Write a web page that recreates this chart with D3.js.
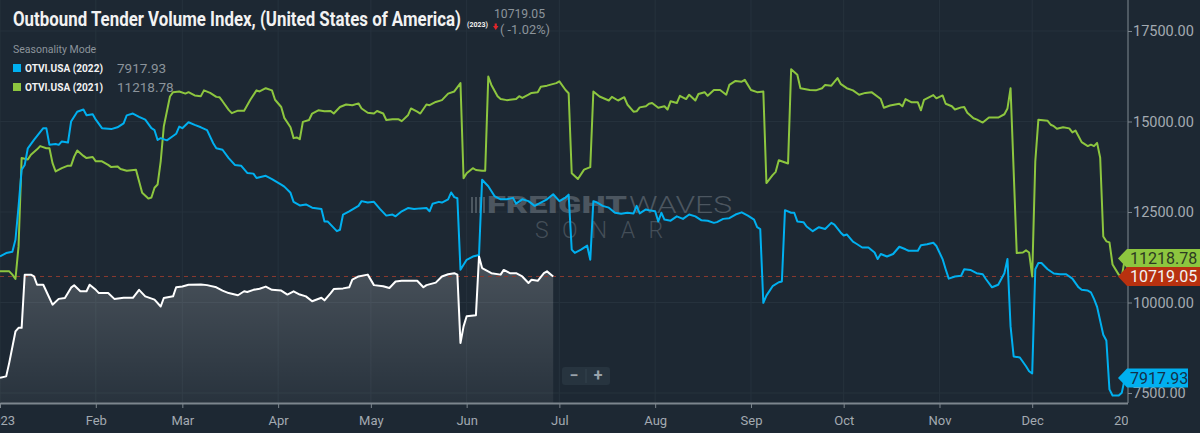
<!DOCTYPE html>
<html>
<head>
<meta charset="utf-8">
<script src="https://cdn.jsdelivr.net/npm/d3@7"></script>
<style>
  body { margin: 0; background: #1d2833; }
  svg { display: block; font-family: Roboto, "Noto Sans", sans-serif; }
</style>
</head>
<body>
<svg id="chart" width="1200" height="433"></svg>
<script>
// days counted from Jan 1 (seasonality mode: every year on the same calendar)
var days2023 = [0,2,3,5,6,7,8,10,11,12,14,16,17,19,21,23,24,26,28,29,31,32,35,37,40,43,45,47,50,52,53,56,57,59,61,65,67,70,72,74,77,79,80,82,84,86,88,91,93,95,97,99,101,104,105,107,108,111,113,114,116,119,121,124,126,128,130,133,135,137,138,141,143,145,147,148,149,150,151,154,155,156,159,162,163,165,167,169,171,172,174,176,177,179];
var values2023 = [7920,7960,8340,9200,9300,9300,10768,10768,10720,10490,10490,10125,9940,10100,10125,10410,10475,10310,10310,10490,10350,10260,10260,10100,10130,10130,10350,10170,10080,9890,10125,10170,10420,10440,10490,10500,10480,10420,10330,10260,10200,10310,10290,10350,10380,10440,10350,10330,10220,10310,10220,10170,10035,10130,10060,10260,10370,10390,10420,10630,10720,10770,10480,10450,10400,10580,10600,10600,10600,10420,10480,10550,10720,10780,10810,10770,8880,9340,9620,9650,11270,10950,10810,10770,10900,10810,10810,10720,10540,10630,10600,10810,10860,10719.05];

var days2022 = [0,2,4,5,6,7,8,9,11,14,15,16,18,19,20,22,23,25,27,28,30,31,33,36,38,40,41,43,45,47,49,50,51,52,54,56,57,58,59,61,63,65,67,69,70,72,74,76,78,80,82,83,86,88,91,92,94,95,97,99,101,104,105,106,108,109,110,111,113,116,117,119,121,123,125,127,128,130,132,134,136,138,139,140,142,143,145,146,147,148,149,151,153,155,156,158,160,162,164,166,167,169,171,173,175,177,179,181,183,184,185,186,188,190,191,192,193,195,197,199,201,203,205,206,207,209,210,212,213,214,215,217,219,221,223,225,227,229,231,232,234,236,238,240,242,244,245,246,247,248,250,252,253,254,256,257,258,260,261,263,265,267,269,270,272,273,274,276,277,279,281,283,284,285,287,289,291,293,294,297,298,300,302,303,305,306,307,309,311,312,314,316,318,319,321,323,325,326,327,328,330,332,333,334,335,336,337,339,341,343,345,347,349,350,352,353,354,355,357,358,359,360,362,363,364];
var values2022 = [11273,11365,11400,11733,12650,13665,13800,14260,14490,14815,14815,14355,14380,14355,14450,14420,14998,15270,15330,15170,15200,15050,14815,14790,14840,14950,15170,15220,15130,15050,14815,14760,14490,14540,14480,14600,14660,14860,14815,14980,14905,14840,14760,14400,14260,14220,13990,13800,13780,13580,13560,13440,13500,13410,13255,13200,13030,12780,12680,12710,12620,12580,12240,12240,12060,11970,12010,12430,12520,12670,12800,12760,12780,12580,12400,12430,12380,12520,12610,12580,12600,12610,12520,12730,12780,12760,12850,13040,12910,12880,10906,11180,11270,11310,13390,13210,12940,12850,12850,12890,12730,12850,12800,12670,12760,12850,12990,12800,12900,12980,11460,11370,11460,11570,11180,12800,12770,12670,12620,12480,12450,12480,12460,12670,12460,12570,12550,12520,12240,12480,12290,12260,12380,12310,12430,12380,12270,12260,12200,12220,12310,12330,12430,12490,12400,12290,12080,12030,9990,10190,10450,10560,10580,12550,12480,12480,12240,12220,12100,11970,12080,12030,12200,12150,11935,11850,11880,11680,11630,11520,11520,11380,11200,11340,11270,11340,11540,11470,11430,11430,11580,11610,11650,11560,11200,10920,10660,10720,10740,10920,10900,10810,10780,10650,10420,10490,10810,11200,9340,8510,8480,8240,8100,8040,10920,11090,11090,10920,10800,10780,10780,10660,10420,10350,10330,10280,10100,9880,9110,8950,7600,7430,7430,7510,7917.93];

var days2021 = [0,3,4,5,6,7,9,10,12,13,15,16,17,18,20,22,23,24,25,27,28,30,31,33,35,36,38,39,41,44,45,46,48,49,50,51,52,53,55,56,58,60,61,63,65,66,68,70,71,72,74,75,77,79,81,83,84,86,88,89,91,92,94,95,96,97,98,100,101,103,105,107,108,110,112,114,116,117,119,121,122,124,125,127,129,130,132,133,135,136,138,139,141,143,145,147,149,150,151,153,154,156,157,158,159,161,162,164,167,168,169,171,172,174,175,177,180,181,183,184,185,187,189,191,192,194,197,198,200,202,203,205,206,207,209,210,211,213,215,216,217,219,220,222,223,225,226,228,229,231,233,235,236,238,240,241,243,245,247,248,250,251,252,255,256,258,259,262,264,266,267,269,271,272,274,276,278,280,282,285,286,288,291,292,293,295,297,298,299,302,303,305,306,308,309,311,312,313,315,316,318,320,323,325,326,327,329,331,332,333,334,335,336,339,340,341,342,344,346,347,348,349,350,352,353,354,355,356,357,358,359,360,362,363,364];
var values2021 = [10860,10860,10770,10650,11550,13990,13950,14080,14230,14320,14260,14260,13850,13620,13710,13780,13780,14030,14200,14050,13990,14020,13900,13900,13800,13740,13760,13690,13640,13670,13350,13030,12870,12900,13170,13260,13900,14860,15690,15810,15830,15770,15810,15720,15700,15860,15790,15680,15670,15560,15320,15230,15300,15300,15600,15860,15830,15920,15860,15600,15400,15100,14840,14540,14560,14510,14990,15040,15220,15310,15280,15290,15220,15400,15470,15450,15500,15360,15240,15220,15290,15220,15040,15060,15060,15010,15170,15360,15270,15220,15470,15450,15540,15590,15770,15830,16060,13430,13570,13710,13660,13640,13640,16240,16010,15700,15620,15590,15620,15700,15650,15740,15790,15810,15960,15990,16060,16110,15870,15780,13570,13410,13670,13740,15830,15690,15580,15680,15580,15670,15470,15270,15280,15390,15420,15490,15510,15380,15420,15330,15560,15510,15710,15620,15740,15580,15760,15810,15710,15870,15870,15740,16010,16120,16100,16150,15870,15810,15830,13300,13520,13610,13930,13840,16440,16290,15920,15870,15860,15920,16010,15990,16200,16040,15920,15860,15740,15790,15810,15620,15380,15440,15490,15420,15620,15530,15530,15310,15600,15730,15640,15720,15490,15420,15330,15390,15400,15240,15090,15060,14970,15110,15110,15200,15360,15920,11365,11380,11440,11380,10720,13900,15050,15020,14910,14870,14800,14840,14810,14700,14750,14590,14430,14320,14360,14320,14410,14000,11825,11690,11660,11050,10770,10720,11218.78];

var yTicks = [7500, 10000, 12500, 15000, 17500];

var blueColor = "#00b0f0";
var greenColor = "#8dc63f";
var redColor = "#b8310f";
var axisText = "#a3aab1";

var svg = d3.select("#chart");
var plotW = 1128, plotH = 403;

var x = d3.scaleTime()
          .domain([new Date(2023, 0, 1), new Date(2024, 0, 1)])
          .range([0, plotW]);
var y = d3.scaleLinear()
          .domain([7224, 18356])
          .range([plotH, 0]);

function toPoints(days, values) {
    return days.map(function(d, i) { return [new Date(2023, 0, 1 + d), values[i]]; });
}

//faint grid
var grid = svg.append("g");
grid.selectAll("line.h")
    .data(yTicks)
    .enter().append("line")
    .attr("x1", 0).attr("x2", plotW)
    .attr("y1", function(d) { return y(d); })
    .attr("y2", function(d) { return y(d); })
    .attr("stroke", "#26323d");
grid.selectAll("line.v")
    .data(x.ticks(d3.timeMonth.every(1)))
    .enter().append("line")
    .attr("x1", function(d) { return x(d); })
    .attr("x2", function(d) { return x(d); })
    .attr("y1", 0).attr("y2", plotH)
    .attr("stroke", "#26323d");

//area gradient under the current year
var defs = svg.append("defs");
var grad = defs.append("linearGradient")
    .attr("id", "areaGrad")
    .attr("gradientUnits", "userSpaceOnUse")
    .attr("x1", 0).attr("x2", 0)
    .attr("y1", y(11300)).attr("y2", plotH);
grad.append("stop").attr("offset", "0%").attr("stop-color", "#ffffff").attr("stop-opacity", 0.2);
grad.append("stop").attr("offset", "100%").attr("stop-color", "#ffffff").attr("stop-opacity", 0.05);

defs.append("clipPath").attr("id", "plotClip")
    .append("rect").attr("x", 0).attr("y", 0).attr("width", plotW).attr("height", 433);

var pts2023 = toPoints(days2023, values2023);
var pts2022 = toPoints(days2022, values2022);
var pts2021 = toPoints(days2021, values2021);

var line = d3.line()
    .x(function(d) { return x(d[0]); })
    .y(function(d) { return y(d[1]); });
var area = d3.area()
    .x(function(d) { return x(d[0]); })
    .y0(plotH)
    .y1(function(d) { return y(d[1]); });

svg.append("path")
    .datum(pts2023)
    .attr("d", area)
    .attr("fill", "url(#areaGrad)");

//watermark
var wm = svg.append("g").attr("fill-opacity", 0.5);
wm.append("text")
    .attr("x", 487).attr("y", 213)
    .attr("font-size", 23).attr("font-weight", 900)
    .attr("fill", "#7b858e")
    .attr("textLength", 140).attr("lengthAdjust", "spacingAndGlyphs")
    .text("FREIGHT");
wm.append("text")
    .attr("x", 629).attr("y", 213)
    .attr("font-size", 23).attr("font-weight", 300)
    .attr("fill", "#7b858e")
    .attr("textLength", 103).attr("lengthAdjust", "spacingAndGlyphs")
    .text("WAVES");
wm.append("text")
    .attr("x", 535).attr("y", 238)
    .attr("font-size", 23).attr("font-weight", 300)
    .attr("fill", "#6b757e")
    .attr("textLength", 128).attr("lengthAdjust", "spacing")
    .text("SONAR");
wm.selectAll("rect.logo")
    .data([0, 1, 2, 3])
    .enter().append("rect")
    .attr("x", function(d) { return 471 + d * 4; })
    .attr("y", 197).attr("width", 2).attr("height", 16)
    .attr("fill", "#7b858e");

//current value reference line
svg.append("line")
    .attr("x1", 0).attr("x2", plotW)
    .attr("y1", y(10719.05)).attr("y2", y(10719.05))
    .attr("stroke", "#8a3a30")
    .attr("stroke-dasharray", "4,4");

var lines = [
    {pts: pts2021, color: greenColor},
    {pts: pts2022, color: blueColor},
    {pts: pts2023, color: "#ffffff"}
];
svg.selectAll("path.series")
    .data(lines)
    .enter().append("path")
    .attr("class", "series")
    .attr("d", function(d) { return line(d.pts); })
    .attr("fill", "none")
    .attr("stroke", function(d) { return d.color; })
    .attr("stroke-width", 2)
    .attr("stroke-linejoin", "round");

//axes
var yAxis = svg.append("g")
    .attr("transform", "translate(" + plotW + ",0)")
    .call(d3.axisRight(y).tickValues(yTicks).tickFormat(d3.format(".2f")).tickSize(4).tickSizeOuter(0));
yAxis.select(".domain").attr("stroke", "#7d868e").attr("d", "M0,0V" + plotH);
yAxis.selectAll(".tick line").attr("stroke", "#7d868e");
yAxis.selectAll(".tick text")
    .attr("fill", axisText)
    .attr("font-size", 14.5)
    .attr("font-family", "Roboto")
    .attr("x", 5);

var xAxis = svg.append("g")
    .attr("clip-path", "url(#plotClip)")
    .append("g")
    .attr("transform", "translate(0," + plotH + ")")
    .call(d3.axisBottom(x)
        .ticks(d3.timeMonth.every(1))
        .tickFormat(function(d) { return d.getMonth() === 0 ? d.getFullYear() : d3.timeFormat("%b")(d); })
        .tickSize(5).tickSizeOuter(0));
xAxis.select(".domain").attr("stroke", "#7d868e").attr("stroke-width", 2);
xAxis.selectAll(".tick line").attr("stroke", "#7d868e");
xAxis.selectAll(".tick text")
    .attr("fill", axisText)
    .attr("font-size", 13)
    .attr("font-family", "Roboto")
    .attr("dy", "1.05em");

//value tags on the right axis
var tags = [
    {v: 11218.78, label: "11218.78", bg: greenColor, fg: "#2c3a22", end: 1200},
    {v: 10719.05, label: "10719.05", bg: redColor, fg: "#f3f3f3", end: 1200},
    {v: 7917.93, label: "7917.93", bg: blueColor, fg: "#13304a", end: 1188}
];
var tagG = svg.selectAll("g.tag")
    .data(tags)
    .enter().append("g")
    .attr("class", "tag");
tagG.append("path")
    .attr("d", function(d) {
        var c = y(d.v);
        return "M1118," + c + "L1127," + (c - 9.5) + "H" + d.end + "V" + (c + 9.5) + "H1127Z";
    })
    .attr("fill", function(d) { return d.bg; });
tagG.append("text")
    .attr("x", 1130)
    .attr("y", function(d) { return y(d.v) + 6; })
    .attr("font-size", 16)
    .attr("fill", function(d) { return d.fg; })
    .text(function(d) { return d.label; });

//zoom buttons
var zoomG = svg.append("g");
zoomG.append("rect")
    .attr("x", 562).attr("y", 367).attr("width", 48).attr("height", 18)
    .attr("rx", 3).attr("fill", "#27343f");
zoomG.append("line")
    .attr("x1", 586).attr("x2", 586).attr("y1", 369).attr("y2", 383)
    .attr("stroke", "#34424e");
zoomG.append("text")
    .attr("x", 574).attr("y", 381).attr("text-anchor", "middle")
    .attr("font-size", 16).attr("font-weight", 700).attr("fill", "#9aa3ab")
    .text("−");
zoomG.append("text")
    .attr("x", 598).attr("y", 381).attr("text-anchor", "middle")
    .attr("font-size", 16).attr("font-weight", 700).attr("fill", "#9aa3ab")
    .text("+");

//title and legend
svg.append("text")
    .attr("x", 13).attr("y", 26)
    .attr("font-size", 20).attr("font-weight", 700)
    .attr("fill", "#f2f2f2")
    .attr("textLength", 448).attr("lengthAdjust", "spacingAndGlyphs")
    .text("Outbound Tender Volume Index, (United States of America)");
svg.append("text")
    .attr("x", 467).attr("y", 27)
    .attr("font-size", 7.5).attr("font-weight", 700)
    .attr("fill", "#f2f2f2")
    .attr("textLength", 21).attr("lengthAdjust", "spacingAndGlyphs")
    .text("(2023)");
svg.append("text")
    .attr("x", 494).attr("y", 18)
    .attr("font-size", 13).attr("fill", "#8c949b")
    .attr("textLength", 51).attr("lengthAdjust", "spacingAndGlyphs")
    .text("10719.05");
svg.append("path")
    .attr("d", "M493,26h5.5l-2.75,4z")
    .attr("fill", "#e0262b");
svg.append("path")
    .attr("d", "M495.75,23.5v3")
    .attr("stroke", "#e0262b").attr("stroke-width", 2.2);
svg.append("text")
    .attr("x", 500).attr("y", 33.5)
    .attr("font-size", 13).attr("fill", "#8c949b")
    .attr("textLength", 50).attr("lengthAdjust", "spacingAndGlyphs")
    .text("( -1.02%)");

svg.append("text")
    .attr("x", 13).attr("y", 53)
    .attr("font-size", 10.5).attr("fill", "#8c949b")
    .text("Seasonality Mode");

var legendItems = [
    {name: "OTVI.USA (2022)", value: "7917.93", color: blueColor},
    {name: "OTVI.USA (2021)", value: "11218.78", color: greenColor}
];
var leg = svg.selectAll("g.legend")
    .data(legendItems)
    .enter().append("g")
    .attr("class", "legend")
    .attr("transform", function(d, i) { return "translate(13," + (72 + i * 19) + ")"; });
leg.append("rect")
    .attr("x", 0).attr("y", -8).attr("width", 8).attr("height", 8)
    .attr("fill", function(d) { return d.color; });
leg.append("text")
    .attr("x", 12).attr("y", 0)
    .attr("font-size", 11.5).attr("font-weight", 700).attr("fill", "#f2f2f2")
    .attr("textLength", 78).attr("lengthAdjust", "spacingAndGlyphs")
    .text(function(d) { return d.name; });
leg.append("text")
    .attr("x", 104).attr("y", 1)
    .attr("font-size", 13.5).attr("fill", "#8c949b")
    .text(function(d) { return d.value; });
</script>
</body>
</html>
